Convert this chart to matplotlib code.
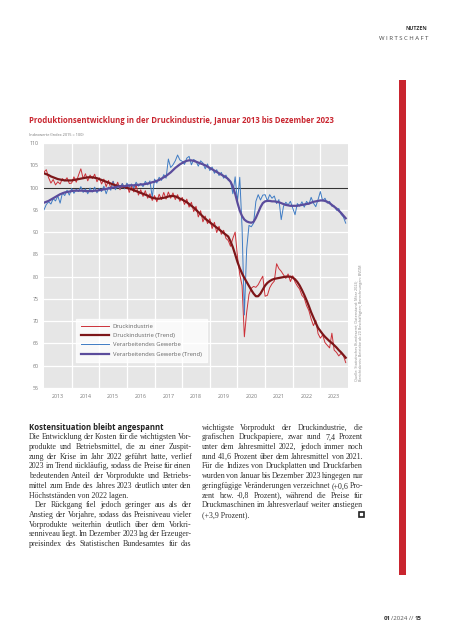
import matplotlib
matplotlib.use("Agg")
import matplotlib.pyplot as plt
from matplotlib.lines import Line2D

W, H = 453, 640

# monthly values, Jan 2013 .. Dec 2023 (Index 2015 = 100)
druck = [
    103.5, 104.0, 102.2, 101.0, 101.8, 100.6, 101.3, 100.8, 102.0, 101.5, 102.2, 100.9,
    101.0, 102.4, 101.2, 102.8, 104.2, 102.0, 103.1, 101.5, 102.8, 102.0, 103.0, 101.3,
    102.2, 100.8, 101.9, 100.2, 101.6, 99.8, 101.4, 100.0, 101.2, 99.5, 100.9, 99.8,
    100.8, 98.9, 100.3, 99.0, 100.6, 98.3, 99.5, 98.0, 99.3, 97.6, 98.6, 97.1,
    98.2, 96.8, 98.5, 97.3, 98.9, 97.4, 99.0, 97.6, 98.8, 97.3, 98.4, 96.9,
    97.8, 96.2, 97.4, 95.6, 96.7, 94.6, 95.8, 93.4, 94.8, 92.3, 93.6, 91.9,
    93.0, 90.8, 92.2, 89.9, 91.3, 89.5, 90.4, 88.6, 88.1, 86.8, 88.6, 90.0,
    84.5, 80.5, 78.0, 66.5, 72.0, 76.0, 77.4, 77.8, 77.6, 78.2, 79.2, 80.1,
    75.6, 75.8, 77.5, 78.4, 79.0, 82.9, 81.8, 81.2, 80.4, 79.6, 80.6, 78.9,
    80.2, 78.8, 77.9, 77.2, 75.8, 75.2, 73.5, 72.4, 70.5, 69.0, 70.2, 67.2,
    66.2, 66.9, 65.2, 64.6, 64.0, 67.3, 63.5, 63.0, 62.2, 62.8, 62.3, 60.7,
]
druck_trend = [
    103.2, 103.0, 102.8, 102.5, 102.3, 102.1, 101.9, 101.8, 101.7, 101.6, 101.6, 101.6,
    101.6, 101.7, 101.8, 101.9, 102.0, 102.1, 102.2, 102.3, 102.3, 102.3, 102.2, 102.1,
    101.9, 101.7, 101.5, 101.3, 101.1, 100.9, 100.7, 100.5, 100.4, 100.3, 100.2, 100.1,
    99.9, 99.8, 99.6, 99.4, 99.2, 99.0, 98.8, 98.6, 98.4, 98.2, 97.9, 97.7,
    97.6, 97.5, 97.5, 97.6, 97.7, 97.8, 98.0, 98.1, 98.1, 98.0, 97.8, 97.5,
    97.3, 97.0, 96.7, 96.3, 95.9, 95.5, 95.0, 94.5, 94.0, 93.5, 93.0, 92.6,
    92.2, 91.8, 91.4, 91.0, 90.6, 90.2, 89.8, 89.4, 89.0, 87.9, 86.6, 85.0,
    83.3, 81.9, 80.7, 79.7, 78.8, 77.9, 77.0, 76.2, 75.6, 75.6, 76.2, 77.1,
    78.0, 78.6, 79.0, 79.3, 79.5, 79.6, 79.7, 79.8, 79.9, 80.0, 80.0, 80.0,
    79.8, 79.4, 78.8, 78.0, 77.0, 75.9, 74.7, 73.4, 72.0, 70.8, 69.6, 68.5,
    67.8, 67.1, 66.5, 66.0, 65.5, 65.1, 64.6, 64.1, 63.5, 63.0, 62.4, 61.8,
]
verarb = [
    95.0, 96.2, 96.8, 96.3, 97.5, 97.0, 98.1, 96.5, 98.8, 98.2, 99.4, 98.3,
    99.8, 98.7, 99.6, 99.1, 100.2, 98.9, 99.7, 98.6, 99.9, 99.0, 100.1, 98.8,
    99.8, 99.1, 100.3, 98.6, 100.1, 99.4, 101.4, 99.5, 100.6, 99.8, 100.9, 99.7,
    101.0, 100.1, 100.8, 99.9, 101.2, 100.3, 100.9, 100.2, 101.4, 100.6, 101.5, 97.8,
    101.9, 101.0, 102.3, 101.6, 102.9, 102.1, 106.4, 104.5, 105.1, 106.0, 107.3, 106.2,
    105.9, 105.2, 106.6, 107.0, 105.1, 106.3, 105.9, 104.8, 106.0, 105.5, 104.2, 105.3,
    103.8, 104.6, 103.2, 104.0, 102.7, 103.4, 102.1, 102.8, 101.6, 101.4, 98.6, 102.4,
    96.8, 102.3, 91.0, 71.4, 86.2, 91.5, 91.2, 92.0, 96.9, 98.4, 97.2, 98.3,
    98.4, 97.0, 98.4, 97.6, 98.1, 96.4, 97.3, 92.8, 95.8, 96.7, 96.1, 96.9,
    95.4, 93.9, 96.4, 95.8, 96.8, 95.6, 96.9, 96.2, 97.8, 96.5, 95.7, 97.3,
    99.1, 97.0, 97.6, 96.5, 96.9, 95.8, 95.9, 94.9, 95.3, 94.0, 93.4, 92.0,
]
verarb_trend = [
    96.6, 96.8, 97.0, 97.3, 97.6, 97.9, 98.2, 98.5, 98.7, 98.9, 99.0, 99.1,
    99.2, 99.3, 99.3, 99.3, 99.3, 99.3, 99.2, 99.2, 99.2, 99.2, 99.3, 99.3,
    99.4, 99.5, 99.6, 99.7, 99.8, 99.9, 100.0, 100.1, 100.2, 100.3, 100.3, 100.3,
    100.4, 100.5, 100.5, 100.5, 100.6, 100.6, 100.7, 100.7, 100.8, 100.9, 101.0, 101.2,
    101.3, 101.5, 101.7, 102.0, 102.3, 102.6, 103.0, 103.4, 103.9, 104.4, 104.8, 105.2,
    105.5, 105.8, 106.0, 106.1, 106.1, 106.0, 105.8, 105.6, 105.4, 105.2, 105.0, 104.7,
    104.4, 104.1, 103.8, 103.5, 103.2, 102.9, 102.6, 102.3, 101.9, 101.3, 100.2, 98.6,
    96.6, 94.8, 93.6, 92.8, 92.4, 92.2, 92.1, 92.3, 93.2, 94.4, 95.6, 96.5,
    96.9, 97.0, 97.0, 96.9, 96.9, 96.8, 96.7, 96.5, 96.3, 96.1, 96.0, 95.9,
    95.9, 95.9, 95.9, 96.0, 96.1, 96.2, 96.3, 96.4, 96.6, 96.8, 96.9, 97.0,
    97.1, 97.1, 97.0, 96.8, 96.5, 96.1, 95.7, 95.3, 94.8, 94.3, 93.7, 93.1,
]
years = list(range(2013, 2024))
y_ticks = [55, 60, 65, 70, 75, 80, 85, 90, 95, 100, 105, 110]
months = [2013 + i / 12 for i in range(len(druck))]

col1 = [
    "Die Entwicklung der Kosten für die wichtigsten Vor-",
    "produkte und Betriebsmittel, die zu einer Zuspit-",
    "zung der Krise im Jahr 2022 geführt hatte, verlief",
    "2023 im Trend rückläufig, sodass die Preise für einen",
    "bedeutenden Anteil der Vorprodukte und Betriebs-",
    "mittel zum Ende des Jahres 2023 deutlich unter den",
    "Höchstständen von 2022 lagen.",
    "Der Rückgang fiel jedoch geringer aus als der",
    "Anstieg der Vorjahre, sodass das Preisniveau vieler",
    "Vorprodukte weiterhin deutlich über dem Vorkri-",
    "senniveau liegt. Im Dezember 2023 lag der Erzeuger-",
    "preisindex des Statistischen Bundesamtes für das",
]
col2 = [
    "wichtigste Vorprodukt der Druckindustrie, die",
    "grafischen Druckpapiere, zwar rund 7,4 Prozent",
    "unter dem Jahresmittel 2022, jedoch immer noch",
    "rund 41,6 Prozent über dem Jahresmittel von 2021.",
    "Für die Indizes von Druckplatten und Druckfarben",
    "wurden von Januar bis Dezember 2023 hingegen nur",
    "geringfügige Veränderungen verzeichnet (+0,6 Pro-",
    "zent bzw. -0,8 Prozent), während die Preise für",
    "Druckmaschinen im Jahresverlauf weiter anstiegen",
    "(+3,9 Prozent).",
]

red = "#c9252f"
fig = plt.figure(figsize=(W / 100, H / 100), dpi=100)
fig.patch.set_facecolor("white")
renderer = fig.canvas.get_renderer()


def fx(x):
    return x / W


def fy(y):
    return 1 - y / H


# page header / frame
fig.text(fx(427), fy(29), "NUTZEN", ha="right", va="center", fontsize=3.8,
         fontweight="bold", color="#333333", family="Open Sans")
fig.text(fx(428), fy(38), " ".join("WIRTSCHAFT"), ha="right", va="center",
         fontsize=4.3, color="#444444", family="Open Sans")
fig.add_artist(plt.Rectangle((fx(399), fy(575)), 7 / W, (575 - 80) / H,
                             color=red, transform=fig.transFigure, lw=0))

fig.text(fx(29), fy(120), "Produktionsentwicklung in der Druckindustrie, Januar 2013 bis Dezember 2023",
         ha="left", va="center", fontsize=5.6, fontweight="bold", color=red, family="Open Sans")
fig.text(fx(29), fy(135), "Indexwerte (Index 2015 = 100)", ha="left", va="center",
         fontsize=2.8, color="#777777", family="Open Sans")

ax = fig.add_axes([fx(44), fy(388), 304 / W, 245 / H])
ax.set_facecolor("#e6e6e6")
for s in ax.spines.values():
    s.set_visible(False)
ax.set_xlim(2013, 2024)
ax.set_ylim(55, 110)
ax.set_yticks(y_ticks)
ax.set_yticklabels([str(v) for v in y_ticks], fontsize=3.8, color="#777777", family="Open Sans")
ax.set_xticks(years[1:])
ax.set_xticklabels([])
ax.set_xticks([y + 0.5 for y in years], minor=True)
ax.set_xticklabels([str(y) for y in years], minor=True, fontsize=3.8, color="#777777",
                   family="Open Sans")
ax.tick_params(which="both", length=0, pad=4)
ax.grid(True, color="white", lw=0.9)
ax.set_axisbelow(True)
ax.axhline(100, color="#333333", lw=0.8, zorder=2)

ax.plot(months, druck, color="#cc3038", lw=0.7, zorder=3)
ax.plot(months, verarb, color="#3f7cc4", lw=0.7, zorder=3)
ax.plot(months, druck_trend, color="#7d1619", lw=1.6, zorder=4)
ax.plot(months, verarb_trend, color="#5b4c9c", lw=1.6, zorder=4)

handles = [
    Line2D([], [], color="#cc3038", lw=0.7),
    Line2D([], [], color="#7d1619", lw=1.6),
    Line2D([], [], color="#3f7cc4", lw=0.7),
    Line2D([], [], color="#5b4c9c", lw=1.6),
]
labels = ["Druckindustrie", "Druckindustrie (Trend)", "Verarbeitendes Gewerbe",
          "Verarbeitendes Gewerbe (Trend)"]
leg = ax.legend(handles, labels, loc="lower left", bbox_to_anchor=(0.105, 0.106),
                frameon=True, fancybox=False, handlelength=4.8,
                handletextpad=0.6, borderpad=0.9, labelspacing=0.72, borderaxespad=0,
                prop={"family": "Open Sans", "size": 4.2})
leg.get_frame().set_edgecolor("white")
leg.get_frame().set_facecolor("white")
for t in leg.get_texts():
    t.set_color("#666666")

fig.text(fx(356), fy(381), "Quelle: Statistisches Bundesamt; Datenstand: März 2024;",
         rotation=90, ha="center", va="bottom", fontsize=2.7, color="#888888", family="Open Sans")
fig.text(fx(361), fy(381), "Berichtskreis: Betriebe ab 20 Beschäftigten; Berechnungen: BVDM",
         rotation=90, ha="center", va="bottom", fontsize=2.7, color="#888888", family="Open Sans")

# text block below chart
fig.text(fx(29), fy(428), "Kostensituation bleibt angespannt", ha="left", va="center",
         fontsize=5.6, fontweight="bold", color="#222222", family="Open Sans")

body = dict(fontsize=5.7, color="#2e2e2e", family="Liberation Serif", va="baseline")


def put_line(text, x0, x1, y, justify=True):
    # y is the text centre in pixels; draw on baseline a bit below it
    yb = fy(y + 1.9)
    words = text.split(" ")
    if not justify or len(words) == 1:
        fig.text(fx(x0), yb, text, ha="left", **body)
        return
    objs = [fig.text(0, yb, w, ha="left", **body) for w in words]
    widths = [o.get_window_extent(renderer).width for o in objs]
    gap = max((x1 - x0 - sum(widths)) / (len(words) - 1), 1.0)
    x = x0
    for o, w in zip(objs, widths):
        o.set_x(fx(x))
        x += w + gap


lh = 9.7
for i, line in enumerate(col1):
    x0 = 35 if i == 7 else 29
    put_line(line, x0, 191.5, 437.5 + i * lh, justify=(i != 6))
for i, line in enumerate(col2):
    put_line(line, 201.5, 363, 427.8 + i * lh, justify=(i != len(col2) - 1))
fig.add_artist(plt.Rectangle((fx(358.5), fy(517)), 5 / W, 5 / H, facecolor="white",
                             edgecolor="#222222", lw=1.2, transform=fig.transFigure))

# page footer
x = 384
for part, weight, col in [("01", "bold", "#333333"), ("/2024 // ", "normal", "#555555"),
                          ("15", "bold", "#333333")]:
    t = fig.text(fx(x), fy(619), part, ha="left", va="center", fontsize=4.4,
                 fontweight=weight, color=col, family="Open Sans")
    x += t.get_window_extent(renderer).width

fig.savefig("out.png", dpi=100)
